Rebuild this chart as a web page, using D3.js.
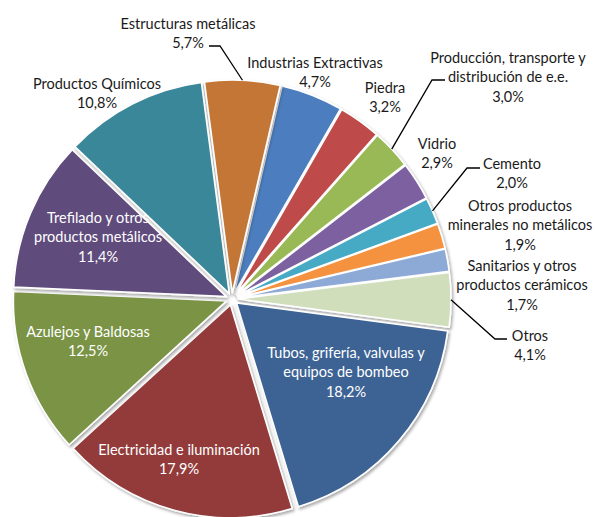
<!DOCTYPE html>
<html>
<head>
<meta charset="utf-8">
<script src="https://d3js.org/d3.v7.min.js"></script>
<style>
  html, body { margin: 0; padding: 0; background: #fff; }
  svg { display: block; }
</style>
</head>
<body>
<div id="chart"></div>
<script>
// ---- Data (clockwise, starting with Industrias Extractivas) ----
const categories = [
  "Industrias Extractivas",
  "Piedra",
  "Producción, transporte y distribución de e.e.",
  "Vidrio",
  "Cemento",
  "Otros productos minerales no metálicos",
  "Sanitarios y otros productos cerámicos",
  "Otros",
  "Tubos, grifería, valvulas y equipos de bombeo",
  "Electricidad e iluminación",
  "Azulejos y Baldosas",
  "Trefilado y otros productos metálicos",
  "Productos Químicos",
  "Estructuras metálicas"
];
const values = [4.7, 3.2, 3.0, 2.9, 2.0, 1.9, 1.7, 4.1, 18.2, 17.9, 12.5, 11.4, 10.8, 5.7];
const labelLines = [
  ["Industrias Extractivas", "4,7%"],
  ["Piedra", "3,2%"],
  ["Producción, transporte y", "distribución de e.e.", "3,0%"],
  ["Vidrio", "2,9%"],
  ["Cemento", "2,0%"],
  ["Otros productos", "minerales no metálicos", "1,9%"],
  ["Sanitarios y otros", "productos cerámicos", "1,7%"],
  ["Otros", "4,1%"],
  ["Tubos, grifería, valvulas y", "equipos de bombeo", "18,2%"],
  ["Electricidad e iluminación", "17,9%"],
  ["Azulejos y Baldosas", "12,5%"],
  ["Trefilado y otros", "productos metálicos", "11,4%"],
  ["Productos Químicos", "10,8%"],
  ["Estructuras metálicas", "5,7%"]
];

// ---- Styles / layout (not data) ----
const colors = ["#4c7dbf", "#be4b48", "#98b954", "#7d60a0", "#46aac5", "#f59240", "#8da9d6",
                "#d0debc", "#3e6394", "#933a3a", "#7a9344", "#614c7d", "#3a879a", "#c37636"];
const insideWhite = [false, false, false, false, false, false, false, false, true, true, true, true, false, false];
// label anchor: centre x, centre y of first line
const labelPos = [
  [315, 62], [385, 87], [508, 57], [437, 143], [512, 163], [520, 205], [522, 265],
  [530, 335], [346, 352], [179, 449], [88, 331], [98, 217], [97, 83], [188, 23]
];
// leader line elbows (label-side points); null = no leader
const leaders = [
  null, null, [[432, 80], [445, 80]], null, [[467, 168], [480, 168]], null, null,
  [[495, 339], [507, 339]], null, null, null, null, null, [[220, 46], [209, 46]]
];

const W = 595, H = 517;
const cx = 232, cy = 299, R = 213, explode = 6;
const lineH = 19.5;
const startDeg = 13;

const svg = d3.select("#chart").append("svg")
  .attr("width", W).attr("height", H);

const defs = svg.append("defs");
const f = defs.append("filter").attr("id", "shadow")
  .attr("x", "-20%").attr("y", "-20%").attr("width", "140%").attr("height", "140%");
f.append("feDropShadow").attr("dx", 1.5).attr("dy", 2).attr("stdDeviation", 1.6)
  .attr("flood-color", "#000").attr("flood-opacity", 0.35);

const pie = d3.pie().sort(null).value(d => d)
  .startAngle(startDeg * Math.PI / 180)
  .endAngle(startDeg * Math.PI / 180 + 2 * Math.PI);
const arcs = pie(values);
const arc = d3.arc().innerRadius(0).outerRadius(R);

const g = svg.append("g").attr("transform", `translate(${cx},${cy})`);

g.selectAll("path.slice").data(arcs).join("path")
  .attr("class", "slice")
  .attr("d", arc)
  .attr("fill", (d, i) => colors[i])
  .attr("stroke", "#fff")
  .attr("stroke-width", 1.6)
  .attr("stroke-linejoin", "round")
  .attr("filter", "url(#shadow)")
  .attr("transform", d => {
    const m = (d.startAngle + d.endAngle) / 2;
    return `translate(${Math.sin(m) * explode},${-Math.cos(m) * explode})`;
  });

// leader lines
const outerPt = d => {
  const m = (d.startAngle + d.endAngle) / 2;
  const r = R + explode;
  return [cx + Math.sin(m) * r, cy - Math.cos(m) * r];
};
arcs.forEach((d, i) => {
  if (!leaders[i]) return;
  const pts = [outerPt(d), ...leaders[i]];
  svg.append("path")
    .attr("d", d3.line()(pts))
    .attr("fill", "none")
    .attr("stroke", "#000")
    .attr("stroke-width", 1.3);
});

// labels
const labels = svg.append("g")
  .attr("font-family", "Lato, 'Open Sans', sans-serif")
  .attr("font-size", 14.5)
  .attr("text-anchor", "middle");
labelLines.forEach((lines, i) => {
  const t = labels.append("text")
    .attr("fill", insideWhite[i] ? "#fff" : "#1a1a1a");
  lines.forEach((ln, k) => {
    t.append("tspan")
      .attr("x", labelPos[i][0])
      .attr("y", labelPos[i][1] + k * lineH)
      .attr("dominant-baseline", "central")
      .text(ln);
  });
});
</script>
</body>
</html>
